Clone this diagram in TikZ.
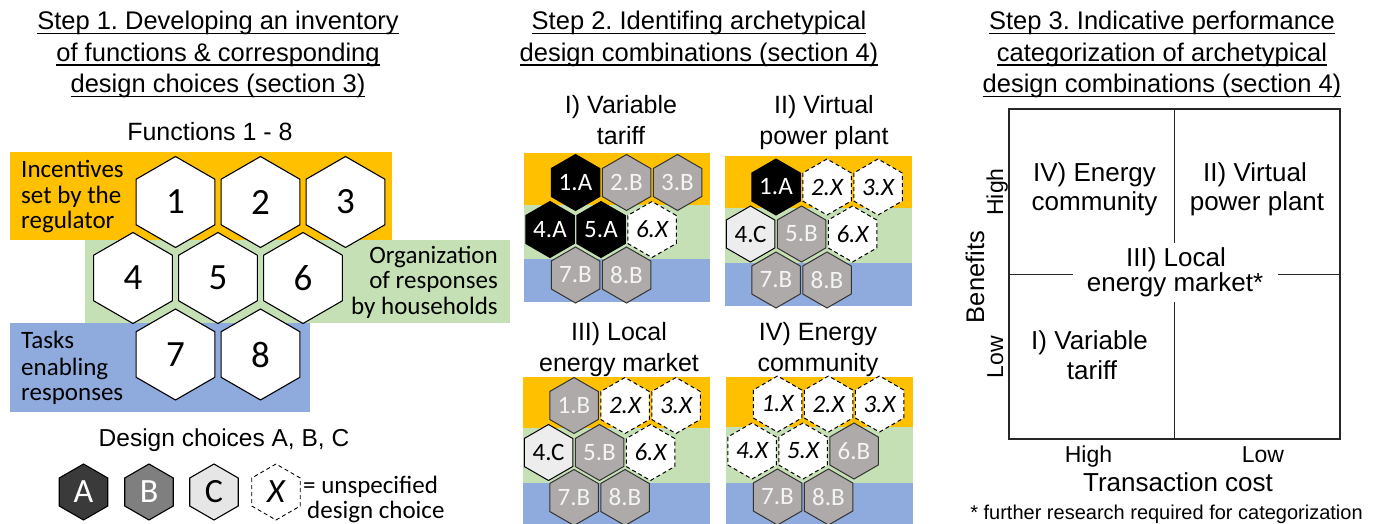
\documentclass[tikz,border=0pt]{standalone}
\usepackage{fontspec}
\setmainfont{Liberation Sans}
\newfontfamily\calib{Carlito}
\usetikzlibrary{shapes.geometric}
\frenchspacing

\definecolor{bandorange}{HTML}{FFC000}
\definecolor{bandgreen}{HTML}{C5E0B4}
\definecolor{bandblue}{HTML}{8FAADC}
\definecolor{choiceB}{HTML}{AEAAAA}
\definecolor{choiceC}{HTML}{EDEDED}
\definecolor{legA}{HTML}{3A3A3A}
\definecolor{legB}{HTML}{7F7F7F}
\definecolor{legC}{HTML}{E6E6E6}
\definecolor{lbl}{HTML}{F4F4F4}

% underline a single title line just below the baseline
\newcommand\ulline[1]{\setbox0\hbox{#1}\rlap{\rule[-4.4pt]{\wd0}{1.4pt}}\box0}

\tikzset{
  ttl/.style={anchor=base, inner sep=0pt, font=\fontsize{25.5}{31}\selectfont},
  sub/.style={anchor=base, inner sep=0pt, font=\fontsize{25}{30}\selectfont},
  quad/.style={anchor=base, inner sep=0pt, font=\fontsize{26}{30}\selectfont},
  axis/.style={inner sep=0pt, font=\fontsize{23}{26}\selectfont},
  grp/.style={inner sep=0pt, font=\calib\fontsize{25}{26}\selectfont},
  hexshape/.style={regular polygon, regular polygon sides=6, shape border rotate=30,
    inner sep=0pt, draw=black},
  bighex/.style={hexshape, minimum size=91pt, line width=1.1pt, fill=white,
    font=\calib\fontsize{37}{37}\selectfont},
  smallhex/.style={hexshape, minimum size=56pt, line width=1pt,
    font=\calib\fontsize{25}{25}\selectfont},
  hA/.style={smallhex, fill=black, text=white},
  hB/.style={smallhex, fill=choiceB, draw=black!80, text=lbl},
  hC/.style={smallhex, fill=choiceC, text=black},
  hX/.style={smallhex, fill=white, dash pattern=on 4pt off 3pt,
    font=\calib\itshape\fontsize{25}{25}\selectfont},
  leghex/.style={hexshape, minimum size=56pt, line width=1.1pt,
    font=\calib\fontsize{34}{34}\selectfont},
}

\begin{document}
\begin{tikzpicture}[x=1pt,y=-1pt]
\useasboundingbox (0,0) rectangle (1379,524);

% ---------------- Step 1 ----------------
\node[ttl] (s1a) at (218,30) {\ulline{Step 1. Developing an inventory}};
\node[ttl] (s1b) at (218,61.5) {\ulline{of functions \& corresponding}};
\node[ttl] (s1c) at (218,93) {\ulline{design choices (section 3)}};
\node[sub] (fn) at (210,141) {Functions 1 - 8};

\fill[bandorange] (10,152) rectangle (392,240);
\fill[bandgreen] (85,240) rectangle (510,323);
\fill[bandblue] (10,323) rectangle (310,412);

\node[bighex] (f1) at (175.5,202) {1};
\node[bighex] (f2) at (260.5,202) {2};
\node[bighex] (f3) at (345.5,202) {3};
\node[bighex] (f4) at (133,278) {4};
\node[bighex] (f5) at (218,278) {5};
\node[bighex] (f6) at (303,278) {6};
\node[bighex] (f7) at (175.5,354.5) {7};
\node[bighex] (f8) at (260.5,354.5) {8};

\node[grp, anchor=base west] (g1a) at (21,177) {Incentives};
\node[grp, anchor=base west] (g1b) at (21,203) {set by the};
\node[grp, anchor=base west] (g1c) at (21,228.5) {regulator};
\node[grp, anchor=base east] (g2a) at (498,263.5) {Organization};
\node[grp, anchor=base east] (g2b) at (498,288.5) {of responses};
\node[grp, anchor=base east] (g2c) at (498,314) {by households};
\node[grp, anchor=base west] (g3a) at (21,348.5) {Tasks};
\node[grp, anchor=base west] (g3b) at (21,375) {enabling};
\node[grp, anchor=base west] (g3c) at (21,400) {responses};

% legend of design choices
\node[anchor=base, inner sep=0pt, font=\fontsize{24.5}{28}\selectfont] (dc) at (224,446) {Design choices A, B, C};
\node[leghex, fill=legA, text=white] (lgA) at (83.5,492) {A};
\node[leghex, fill=legB, text=white] (lgB) at (149,492) {B};
\node[leghex, fill=legC, text=black] (lgC) at (214,492) {C};
\node[leghex, fill=white, dash pattern=on 4pt off 3pt, line width=0.9pt] (lgX) at (276,492) {\itshape X};
\node[grp, anchor=base west] (un1) at (303,493.5) {= unspecified};
\node[grp, anchor=base west] (un2) at (307,518.5) {design choice};

% ---------------- Step 2 ----------------
\node[ttl] (s2a) at (699,30) {\ulline{Step 2. Identifing archetypical}};
\node[ttl] (s2b) at (699,61.5) {\ulline{design combinations (section 4)}};

\node[sub] (t1a) at (621,113.5) {I) Variable};
\node[sub] (t1b) at (621,145) {tariff};
\node[sub] (t2a) at (824,113.5) {II) Virtual};
\node[sub] (t2b) at (824,145) {power plant};
\node[sub] (t3a) at (619,340) {III) Local};
\node[sub] (t3b) at (619,371) {energy market};
\node[sub] (t4a) at (818,340) {IV) Energy};
\node[sub] (t4b) at (818,371) {community};

% I) Variable tariff
\begin{scope}[shift={(575.5,182.5)}]
  \fill[bandorange] (-51.5,-29.5) rectangle (134.5,22.5);
  \fill[bandgreen] (-51.5,22.5) rectangle (134.5,76.5);
  \fill[bandblue] (-51.5,76.5) rectangle (134.5,119.5);
  \node[hA] (vt1) at (0,0) {1.A};
  \node[hB] (vt2) at (51,0) {2.B};
  \node[hB] (vt3) at (102,0) {3.B};
  \node[hA] (vt4) at (-25.5,47) {4.A};
  \node[hA] (vt5) at (25.5,47) {5.A};
  \node[hX] (vt6) at (76.5,47) {6.X};
  \node[hB] (vt7) at (0,92.5) {7.B};
  \node[hB] (vt8) at (51,92.5) {8.B};
\end{scope}

% II) Virtual power plant
\begin{scope}[shift={(776,187)}]
  \fill[bandorange] (-51,-31) rectangle (136,21);
  \fill[bandgreen] (-51,21) rectangle (136,76);
  \fill[bandblue] (-51,76) rectangle (136,119);
  \node[hA] (vp1) at (0,0) {1.A};
  \node[hX] (vp2) at (51,0) {2.X};
  \node[hX] (vp3) at (102,0) {3.X};
  \node[hC] (vp4) at (-25.5,47) {4.C};
  \node[hB] (vp5) at (25.5,47) {5.B};
  \node[hX] (vp6) at (76.5,47) {6.X};
  \node[hB] (vp7) at (0,93) {7.B};
  \node[hB] (vp8) at (51,93) {8.B};
\end{scope}

% III) Local energy market
\begin{scope}[shift={(574,405.5)}]
  \fill[bandorange] (-51,-28.5) rectangle (136,22.5);
  \fill[bandgreen] (-51,22.5) rectangle (136,77.5);
  \fill[bandblue] (-51,77.5) rectangle (136,119);
  \node[hB] (lm1) at (0,0) {1.B};
  \node[hX] (lm2) at (51,0) {2.X};
  \node[hX] (lm3) at (102,0) {3.X};
  \node[hC] (lm4) at (-25.5,47) {4.C};
  \node[hB] (lm5) at (25.5,47) {5.B};
  \node[hX] (lm6) at (76.5,47) {6.X};
  \node[hB] (lm7) at (0,92) {7.B};
  \node[hB] (lm8) at (51,92) {8.B};
\end{scope}

% IV) Energy community
\begin{scope}[shift={(777.5,404)}]
  \fill[bandorange] (-51.5,-27) rectangle (135.5,23);
  \fill[bandgreen] (-51.5,23) rectangle (135.5,79);
  \fill[bandblue] (-51.5,79) rectangle (135.5,120);
  \node[hX] (ec1) at (0,0) {1.X};
  \node[hX] (ec2) at (51,0) {2.X};
  \node[hX] (ec3) at (102,0) {3.X};
  \node[hX] (ec4) at (-25.5,47) {4.X};
  \node[hX] (ec5) at (25.5,47) {5.X};
  \node[hB] (ec6) at (76.5,47) {6.B};
  \node[hB] (ec7) at (0,93) {7.B};
  \node[hB] (ec8) at (51,93) {8.B};
\end{scope}

% ---------------- Step 3 ----------------
\node[ttl] (s3a) at (1162,30) {\ulline{Step 3. Indicative performance}};
\node[ttl] (s3b) at (1162,61.5) {\ulline{categorization of archetypical}};
\node[ttl] (s3c) at (1162,93) {\ulline{design combinations (section 4)}};

\draw[line width=1.1pt, draw=black!85] (1009,109) rectangle (1340,439);
\draw[line width=1pt, draw=black!85] (1174.5,109) -- (1174.5,439);
\draw[line width=1pt, draw=black!85] (1009,274) -- (1340,274);
\fill[white] (1073,243) rectangle (1278,302);

\node[quad] (q4a) at (1094.5,181.5) {IV) Energy};
\node[quad] (q4b) at (1094.5,210) {community};
\node[quad] (q2a) at (1255,181.5) {II) Virtual};
\node[quad] (q2b) at (1257,210) {power plant};
\node[quad] (q3a) at (1176,266.5) {III) Local};
\node[quad] (q3b) at (1175,291) {energy market*};
\node[quad] (q1a) at (1089.5,349) {I) Variable};
\node[quad] (q1b) at (1092,379) {tariff};

\node[axis, rotate=90, anchor=base] (bh) at (1003,192) {High};
\node[axis, rotate=90, anchor=base] (bl) at (1003,357) {Low};
\node[inner sep=0pt, rotate=90, anchor=base, font=\fontsize{25.5}{30}\selectfont] (ben) at (984,277) {Benefits};
\node[axis, anchor=base] (th) at (1088.5,462) {High};
\node[axis, anchor=base] (tl) at (1263,462) {Low};
\node[quad] (tc) at (1178,491) {Transaction cost};
\node[anchor=base, inner sep=0pt, font=\fontsize{20}{24}\selectfont] (fnote) at (1166.5,519.5) {* further research required for categorization};
\end{tikzpicture}
\end{document}
